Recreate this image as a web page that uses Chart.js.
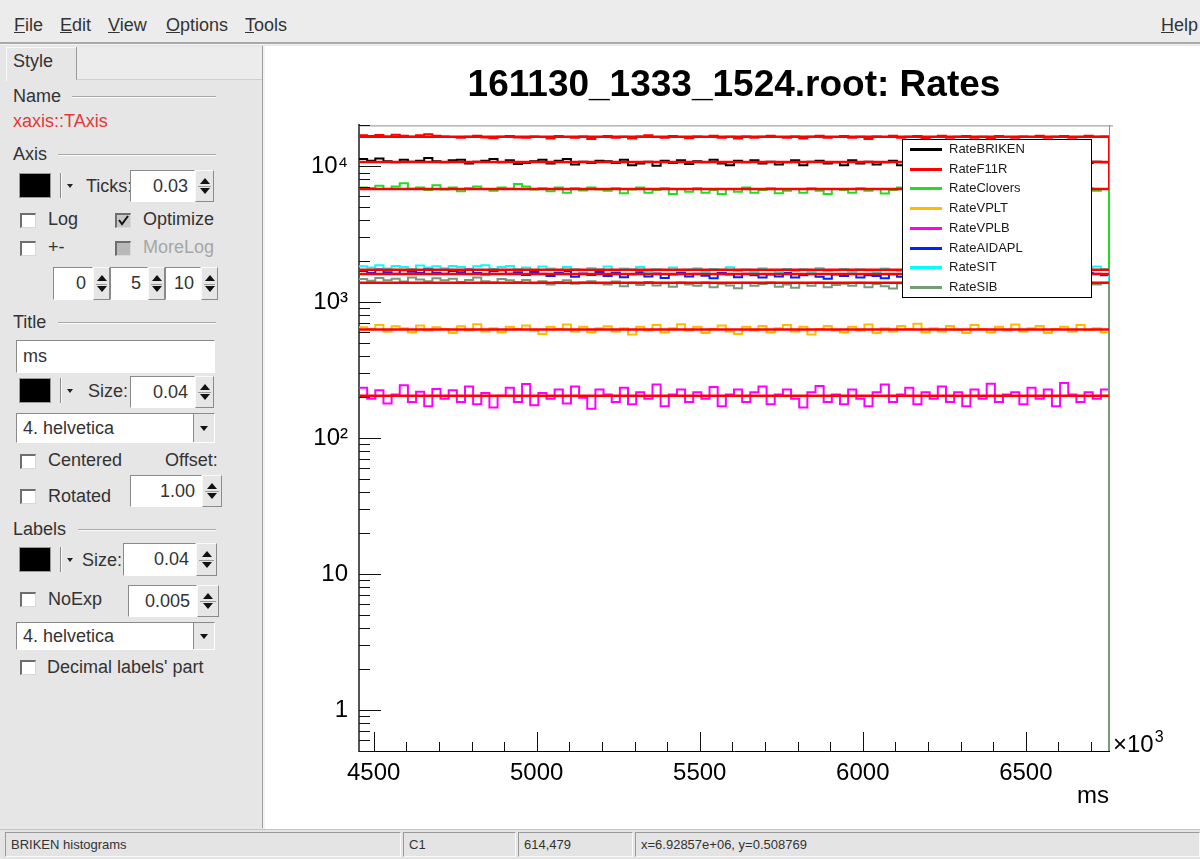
<!DOCTYPE html>
<html><head><meta charset="utf-8">
<script src="https://cdn.jsdelivr.net/npm/chart.js@4.4.1/dist/chart.umd.min.js"></script>
<style>
html,body{margin:0;padding:0;}
body{width:1200px;height:859px;position:relative;overflow:hidden;background:#e6e6e6;font-family:'Liberation Sans',Arial,sans-serif;color:#333;}
.t{position:absolute;font-size:18px;line-height:20px;white-space:nowrap;}
.hl{position:absolute;height:0;border-top:1px solid #a8a8a8;border-bottom:1px solid #fafafa;}
.sw{position:absolute;background:#000;border:1px solid #999;box-sizing:border-box;}
.vs{position:absolute;width:0;border-left:1px solid #8a8a8a;border-right:1px solid #fafafa;}
.dn{position:absolute;width:0;height:0;border-left:3px solid transparent;border-right:3px solid transparent;border-top:4px solid #222;}
.field{position:absolute;background:#fff;border-top:1px solid #8a8a8a;border-left:1px solid #8a8a8a;border-bottom:1px solid #fff;border-right:1px solid #fff;box-sizing:border-box;font-size:18px;display:flex;align-items:center;justify-content:flex-end;padding-right:6px;color:#333;}
.field.l{justify-content:flex-start;padding-left:6px;padding-right:0;}
.spin{position:absolute;box-sizing:border-box;background:#e6e6e6;border:1px solid #fafafa;border-right-color:#8a8a8a;border-bottom-color:#8a8a8a;}
.spin i{position:absolute;left:50%;margin-left:-5px;width:0;height:0;border-left:5px solid transparent;border-right:5px solid transparent;}
.spin i.u{top:22%;border-bottom:6px solid #111;}
.spin i.d{bottom:22%;border-top:6px solid #111;}
.spin b{position:absolute;left:2px;right:2px;top:50%;border-top:1px solid #999;}
.cb{position:absolute;width:16px;height:15px;box-sizing:border-box;background:#fff;border-top:2px solid #6e6e6e;border-left:2px solid #6e6e6e;border-right:1px solid #d8d8d8;border-bottom:1px solid #d8d8d8;}
.cb.dis{background:#b9b9b9;}
.ddb{position:absolute;right:0;top:0;bottom:0;width:21px;background:#e6e6e6;border-left:1px solid #8a8a8a;box-sizing:border-box;}
.ddb i{position:absolute;left:50%;top:50%;margin-left:-4px;margin-top:-2px;width:0;height:0;border-left:4px solid transparent;border-right:4px solid transparent;border-top:5px solid #111;}
.sb{position:absolute;top:832px;height:25px;box-sizing:border-box;border-top:1px solid #9a9a9a;border-left:1px solid #9a9a9a;border-bottom:1px solid #fafafa;border-right:1px solid #fafafa;font-size:13px;line-height:23px;padding-left:5px;color:#333;white-space:nowrap;}
#menu{position:absolute;left:0;top:0;width:1200px;height:42px;background:#ececec;}
#menu span{position:absolute;top:15px;font-size:18px;color:#333;}
#wrap{position:absolute;left:265px;top:46px;width:935px;height:784px;background:#fff;}
</style>
</head>
<body>
<div id="menu">
  <span style="left:14px"><u>F</u>ile</span>
  <span style="left:60px"><u>E</u>dit</span>
  <span style="left:108px"><u>V</u>iew</span>
  <span style="left:166px"><u>O</u>ptions</span>
  <span style="left:245px"><u>T</u>ools</span>
  <span style="left:1161px"><u>H</u>elp</span>
</div>
<div style="position:absolute;left:0;top:42px;width:1200px;height:2px;background:#a9a9a9"></div>
<div style="position:absolute;left:0;top:44px;width:1200px;height:1px;background:#f4f4f4"></div>

<!-- left editor panel -->
<div style="position:absolute;left:76px;top:47px;width:186px;height:32px;background:#ececec;border-left:1px solid #9a9a9a;border-bottom:1px solid #cfcfcf"></div>
<div style="position:absolute;left:6px;top:47px;width:69px;height:33px;border-top:1px solid #fafafa;border-left:1px solid #fafafa"></div>
<div class="t" style="left:13px;top:51px">Style</div>
<div style="position:absolute;left:262px;top:46px;width:1px;height:782px;background:#9c9c9c"></div>
<div style="position:absolute;left:263px;top:46px;width:2px;height:782px;background:#f3f3f3"></div>

<div class="t" style="left:13px;top:86px">Name</div>
<div class="hl" style="left:72px;top:96px;width:144px"></div>
<div class="t" style="left:13px;top:111px;color:#e23a3a">xaxis::TAxis</div>

<div class="t" style="left:13px;top:144px">Axis</div>
<div class="hl" style="left:58px;top:154px;width:158px"></div>
<div class="sw" style="left:19px;top:173px;width:32px;height:25px"></div>
<div class="vs" style="left:60px;top:173px;height:25px"></div>
<div class="dn" style="left:67px;top:184px"></div>
<div class="t" style="left:86px;top:176px">Ticks:</div>
<div class="field" style="left:130px;top:170px;width:65px;height:32px">0.03</div>
<div class="spin" style="left:195px;top:170px;width:19px;height:32px"><i class="u"></i><b></b><i class="d"></i></div>

<div class="cb" style="left:20px;top:213px"></div>
<div class="t" style="left:48px;top:209px">Log</div>
<div class="cb" style="left:115px;top:213px;background:#c8c8c8"><svg width="14" height="13" style="position:absolute;left:0;top:-1px"><polyline points="2,6 5,10 11,2" fill="none" stroke="#111" stroke-width="2"/></svg></div>
<div class="t" style="left:143px;top:209px">Optimize</div>
<div class="cb" style="left:20px;top:241px"></div>
<div class="t" style="left:48px;top:237px">+-</div>
<div class="cb dis" style="left:115px;top:241px"></div>
<div class="t" style="left:143px;top:237px;color:#a6a6a6">MoreLog</div>

<div class="field" style="left:53px;top:267px;width:40px;height:33px">0</div>
<div class="spin" style="left:93px;top:267px;width:17px;height:33px"><i class="u"></i><b></b><i class="d"></i></div>
<div class="field" style="left:110px;top:267px;width:38px;height:33px">5</div>
<div class="spin" style="left:148px;top:267px;width:17px;height:33px"><i class="u"></i><b></b><i class="d"></i></div>
<div class="field" style="left:165px;top:267px;width:36px;height:33px">10</div>
<div class="spin" style="left:201px;top:267px;width:17px;height:33px"><i class="u"></i><b></b><i class="d"></i></div>

<div class="t" style="left:13px;top:312px">Title</div>
<div class="hl" style="left:58px;top:322px;width:158px"></div>
<div class="field l" style="left:16px;top:340px;width:199px;height:33px">ms</div>
<div class="sw" style="left:19px;top:378px;width:32px;height:25px"></div>
<div class="vs" style="left:60px;top:378px;height:25px"></div>
<div class="dn" style="left:67px;top:389px"></div>
<div class="t" style="left:88px;top:381px">Size:</div>
<div class="field" style="left:130px;top:376px;width:65px;height:32px">0.04</div>
<div class="spin" style="left:195px;top:376px;width:19px;height:32px"><i class="u"></i><b></b><i class="d"></i></div>
<div class="field l" style="left:16px;top:413px;width:199px;height:30px">4. helvetica<div class="ddb"><i></i></div></div>

<div class="cb" style="left:20px;top:454px"></div>
<div class="t" style="left:48px;top:450px">Centered</div>
<div class="t" style="left:165px;top:450px">Offset:</div>
<div class="cb" style="left:20px;top:489px"></div>
<div class="t" style="left:48px;top:486px">Rotated</div>
<div class="field" style="left:130px;top:475px;width:72px;height:32px">1.00</div>
<div class="spin" style="left:202px;top:475px;width:20px;height:32px"><i class="u"></i><b></b><i class="d"></i></div>

<div class="t" style="left:13px;top:519px">Labels</div>
<div class="hl" style="left:78px;top:529px;width:138px"></div>
<div class="sw" style="left:19px;top:547px;width:32px;height:25px"></div>
<div class="vs" style="left:60px;top:547px;height:25px"></div>
<div class="dn" style="left:67px;top:558px"></div>
<div class="t" style="left:82px;top:550px">Size:</div>
<div class="field" style="left:123px;top:543px;width:73px;height:33px">0.04</div>
<div class="spin" style="left:196px;top:543px;width:21px;height:33px"><i class="u"></i><b></b><i class="d"></i></div>

<div class="cb" style="left:20px;top:592px"></div>
<div class="t" style="left:48px;top:589px">NoExp</div>
<div class="field" style="left:128px;top:585px;width:69px;height:32px">0.005</div>
<div class="spin" style="left:197px;top:585px;width:22px;height:32px"><i class="u"></i><b></b><i class="d"></i></div>
<div class="field l" style="left:16px;top:622px;width:199px;height:28px">4. helvetica<div class="ddb"><i></i></div></div>
<div class="cb" style="left:20px;top:660px"></div>
<div class="t" style="left:47px;top:657px">Decimal labels' part</div>

<!-- ROOT canvas -->
<div id="wrap"><canvas id="c" width="935" height="784"></canvas></div>

<!-- status bar -->
<div style="position:absolute;left:0;top:829px;width:1200px;height:30px;background:#e4e4e4;border-top:1px solid #c4c4c4"></div>
<div class="sb" style="left:5px;width:396px">BRIKEN histograms</div>
<div class="sb" style="left:403px;width:113px">C1</div>
<div class="sb" style="left:518px;width:115px">614,479</div>
<div class="sb" style="left:635px;width:565px">x=6.92857e+06, y=0.508769</div>

<script>
// ---------------- data ----------------
const chartTitle = '161130_1333_1524.root: Rates';
const seriesNames = ['RateBRIKEN','RateF11R','RateClovers','RateVPLT','RateVPLB','RateAIDAPL','RateSIT','RateSIB'];
const seriesColors = ['#000000','#ff0000','#22dd22','#ffbb00','#ff00ff','#0022ff','#00ffff','#779a77'];
const xMin = 4455, xMax = 6755, binWidth = 25;   // x in units of 10^3 ms
const xTickValues = [4500,5000,5500,6000,6500];
const yTickValues = [1,10,100,1000,10000];
const yTickLabels = ['1','10','10\u00B2','10\u00B3','10\u2074'];
const yMin = 0.5, yMax = 20000;
const emptyBin = 0.01;   // empty bin after the last filled one (drawn at the floor of the log axis)

const rateBRIKEN = [
 11300,11000,11400,10900,10700,11200,10800,11000,11500,10900,
 10700,11100,11200,10500,10800,11000,11300,10700,11100,10400,
 10600,10900,11200,10500,11000,11300,10300,10800,10600,11000,
 10900,10600,11200,10200,10500,10800,10100,11000,10600,11100,
 10400,10900,10700,11200,10500,10200,11000,10700,11100,10500,
 10800,10300,10700,11100,10200,10800,11000,10500,10700,10200,
 11100,10500,10800,10300,10700,11000,10200,10500,11100,10700,
 10400,10900,10600,10100,11000,10700,10300,10800,10600,11100,
 10200,10700,11000,10500,10400,10900,10700,10200,11000,10600,
 10800,10700];
const rateF11R = [
 16900,16700,17000,16600,17100,16800,16500,16900,17200,16800,
 16600,16400,16200,16500,16800,16300,16100,16500,16700,16300,
 16200,16600,16400,16000,16700,16400,16200,16600,15900,16400,
 16700,16200,16500,16000,16600,16900,16400,16200,16700,16400,
 16100,16600,16400,16800,16200,16500,16000,16600,16200,16500,
 16800,16400,16200,16600,16000,16500,16800,16200,16400,16700,
 16200,16500,15900,16600,16400,16800,16200,16500,16700,16100,
 16400,16800,16200,16500,16700,16200,16500,16000,16700,16400,
 16200,16600,16400,16800,16200,16500,16700,16200,16400,16800,
 16500,16600];
const rateClovers = [
 7000,6900,7200,6800,7100,7500,6850,7000,6700,7250,
 6750,7000,6550,6900,7100,6800,6600,7000,6850,7400,
 7100,6750,6900,6550,7000,6400,6900,6650,7000,6750,
 6600,6900,6350,6750,7000,6400,6700,6900,6250,6800,
 6500,6900,6400,6700,6250,6800,6500,7000,6400,6700,
 6900,6350,6600,6800,6400,6900,6600,6250,6800,6700,
 6400,6900,6600,6800,6300,6700,7000,6500,6800,6400,
 6700,6900,6400,6800,6600,6250,6900,6700,6500,6800,
 7000,6600,6700,6300,6900,6600,6800,6400,6700,6900,
 6600,6800];
const rateVPLT = [
 655,635,680,610,665,645,600,675,620,655,
 635,595,665,620,690,610,645,600,660,635,
 675,620,585,660,635,685,610,660,600,645,
 665,610,645,580,660,620,680,600,645,690,
 620,660,595,635,675,610,585,660,620,670,
 600,645,680,610,660,580,635,670,620,600,
 660,620,685,595,645,610,670,635,695,600,
 645,610,670,625,595,680,635,600,660,620,
 685,610,645,670,595,635,660,610,680,625,
 645,600];
const rateVPLB = [
 235,195,225,180,210,245,185,220,172,230,
 195,225,185,240,178,215,168,205,235,185,
 250,175,215,195,228,180,240,198,165,228,
 210,185,235,178,218,195,248,172,210,228,
 185,218,195,238,172,210,228,185,218,240,
 178,210,228,195,168,218,242,185,210,178,
 228,195,172,218,248,185,210,235,178,218,
 195,240,185,218,172,228,195,252,185,210,
 218,178,235,195,228,172,255,210,185,218,
 195,228];
const rateAIDAPL = [
 1700,1640,1740,1660,1620,1720,1680,1640,1760,1650,
 1620,1700,1660,1740,1640,1600,1690,1720,1620,1660,
 1590,1670,1620,1560,1650,1690,1540,1630,1590,1670,
 1560,1640,1530,1610,1660,1550,1630,1510,1600,1650,
 1550,1620,1570,1500,1640,1600,1530,1620,1580,1520,
 1600,1550,1640,1520,1580,1620,1540,1490,1600,1560,
 1620,1520,1580,1560,1500,1610,1540,1620,1520,1580,
 1560,1490,1610,1540,1590,1520,1620,1500,1560,1600,
 1540,1580,1510,1620,1560,1530,1600,1540,1580,1650,
 1620,1580];
const rateSIT = [
 1840,1800,1870,1770,1850,1820,1750,1860,1800,1840,
 1780,1850,1820,1730,1840,1870,1760,1820,1850,1750,
 1800,1730,1830,1770,1700,1820,1750,1710,1790,1740,
 1830,1700,1770,1740,1820,1680,1750,1720,1800,1700,
 1740,1780,1670,1760,1720,1810,1700,1740,1670,1780,
 1720,1660,1760,1700,1750,1670,1790,1690,1720,1760,
 1680,1750,1710,1660,1770,1720,1690,1750,1670,1710,
 1770,1690,1730,1670,1750,1660,1710,1770,1690,1730,
 1670,1750,1710,1800,1690,1730,1660,1760,1710,1800,
 1830,1760];
const rateSIB = [
 1480,1440,1510,1450,1490,1420,1520,1470,1430,1500,
 1450,1490,1410,1460,1520,1430,1400,1480,1450,1410,
 1460,1380,1430,1350,1410,1450,1370,1400,1430,1380,
 1350,1420,1310,1390,1340,1410,1330,1380,1300,1400,
 1350,1320,1400,1290,1370,1330,1270,1390,1320,1360,
 1400,1300,1350,1280,1380,1320,1390,1290,1340,1370,
 1320,1390,1290,1360,1310,1260,1380,1320,1360,1290,
 1370,1310,1340,1390,1280,1360,1320,1380,1290,1340,
 1390,1320,1360,1290,1380,1340,1310,1390,1320,1400,
 1350,1390];
// pol0 fit results (drawn in red)
const fitValues = [10780,16520,6800,630,205,1615,1735,1390];

const seriesValues = [rateBRIKEN,rateF11R,rateClovers,rateVPLT,rateVPLB,rateAIDAPL,rateSIT,rateSIB];

// ---------------- build datasets ----------------
function histPoints(vals){
  const pts = vals.map((v,i)=>({x: xMin + i*binWidth, y: v}));
  pts.push({x: xMin + vals.length*binWidth, y: emptyBin});
  return pts;
}
const datasets = [];
seriesValues.forEach((vals,i)=>{
  datasets.push({label: seriesNames[i], data: histPoints(vals), borderColor: seriesColors[i],
    borderWidth: 2, stepped: true, pointRadius: 0, fill: false, order: 100 - i, inLegend: true});
});
fitValues.forEach((f,i)=>{
  datasets.push({label: seriesNames[i] + ' fit', data: [{x:xMin,y:f},{x:xMax,y:f}], borderColor:'#ff0000',
    borderWidth: 2.5, pointRadius: 0, fill:false, order: 0, inLegend:false});
});

const FONT = "'Liberation Sans', Arial, sans-serif";

const rootDecor = {
  id: 'rootDecor',
  beforeDatasetsDraw(chart){
    const {ctx, chartArea:a} = chart;
    ctx.save();
    ctx.strokeStyle = '#8c8c8c'; ctx.lineWidth = 1;
    ctx.beginPath(); ctx.moveTo(a.left, a.top+0.5); ctx.lineTo(a.right+4, a.top+0.5);
    ctx.moveTo(a.right+0.5, a.top); ctx.lineTo(a.right+0.5, a.bottom); ctx.stroke();
    ctx.restore();
  },
  afterDatasetsDraw(chart, args, opts){
    const {ctx, chartArea:a, scales:{x, y}} = chart;
    ctx.save();
    ctx.strokeStyle = '#111'; ctx.lineWidth = 1;
    for (let d = -1; d <= 4; d++) {
      for (let m = 1; m <= 9; m++) {
        const v = m * Math.pow(10, d);
        if (v < y.min || v > y.max) continue;
        const py = Math.round(y.getPixelForValue(v)) + 0.5;
        const len = m === 1 ? 22 : 11;
        ctx.beginPath(); ctx.moveTo(a.left, py); ctx.lineTo(a.left + len, py); ctx.stroke();
      }
    }
    const first = xTickValues[0];
    for (let v = first; v <= x.max; v += 100) {
      const px = Math.round(x.getPixelForValue(v)) + 0.5;
      const len = (v - first) % 500 === 0 ? 19 : 9;
      ctx.beginPath(); ctx.moveTo(px, a.bottom); ctx.lineTo(px, a.bottom - len); ctx.stroke();
    }
    ctx.fillStyle = '#000'; ctx.textBaseline = 'alphabetic'; ctx.textAlign = 'left';
    ctx.font = '24px ' + FONT;
    ctx.fillText('\u00D710', a.right + 4, a.bottom + 1);
    const w = ctx.measureText('\u00D710').width;
    ctx.font = '16px ' + FONT;
    ctx.fillText('3', a.right + 5 + w, a.bottom - 9);

    const b = opts.box;
    ctx.fillStyle = '#fff'; ctx.fillRect(b.x, b.y, b.w, b.h);
    ctx.strokeStyle = '#000'; ctx.lineWidth = 1; ctx.strokeRect(b.x + 0.5, b.y + 0.5, b.w, b.h);
    const items = chart.data.datasets.filter(ds => ds.inLegend);
    const rowH = b.h / items.length;
    ctx.font = '13px ' + FONT; ctx.textBaseline = 'middle';
    items.forEach((ds, i) => {
      const cy = Math.round(b.y + rowH * (i + 0.5)) + 0.5;
      ctx.strokeStyle = ds.borderColor; ctx.lineWidth = 3;
      ctx.beginPath(); ctx.moveTo(b.x + 8, cy); ctx.lineTo(b.x + 40, cy); ctx.stroke();
      ctx.fillStyle = '#1a1a1a'; ctx.fillText(ds.label, b.x + 47, cy);
    });
    ctx.restore();
  }
};

new Chart(document.getElementById('c'), {
  type: 'line',
  data: { datasets },
  options: {
    responsive: false, animation: false, events: [],
    layout: { padding: { top: 18, right: 91, left: 0, bottom: 0 } },
    plugins: {
      legend: { display: false },
      tooltip: { enabled: false },
      title: { display: true, text: chartTitle, fullSize: false, color: '#000',
               font: { family: FONT, size: 37, weight: 'bold' }, padding: { top: 0, bottom: 17 } },
      rootDecor: { box: { x: 637, y: 93, w: 189, h: 158 } }
    },
    scales: {
      x: {
        type: 'linear', min: xMin, max: xMax,
        grid: { drawOnChartArea: false, drawTicks: false },
        border: { display: true, color: '#000', width: 1 },
        afterBuildTicks: s => { s.ticks = xTickValues.map(v => ({ value: v })); },
        ticks: { autoSkip: false, maxRotation: 0, minRotation: 0, padding: 8, color: '#000',
                 font: { family: FONT, size: 24 }, callback: v => String(v) },
        title: { display: true, text: 'ms', align: 'end', color: '#000',
                 font: { family: FONT, size: 24 }, padding: { top: 0, bottom: 19 } },
        afterFit: s => { s.height = 79; }
      },
      y: {
        type: 'logarithmic', min: yMin, max: yMax,
        grid: { drawOnChartArea: false, drawTicks: false },
        border: { display: true, color: '#555', width: 2 },
        afterBuildTicks: s => { s.ticks = yTickValues.map(v => ({ value: v })); },
        ticks: { autoSkip: false, padding: 11, color: '#000', font: { family: FONT, size: 24 },
                 callback: v => { const i = yTickValues.indexOf(v); return i >= 0 ? yTickLabels[i] : ''; } },
        afterFit: s => { s.width = 94; }
      }
    }
  },
  plugins: [rootDecor]
});
</script>
</body></html>
